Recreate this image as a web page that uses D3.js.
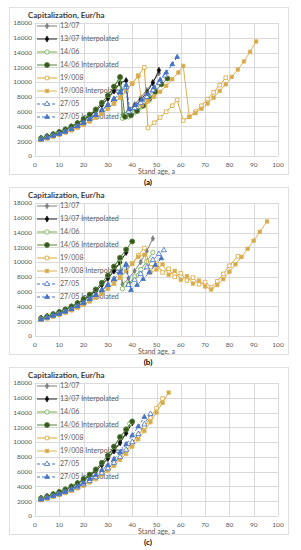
<!DOCTYPE html>
<html>
<head>
<meta charset="utf-8">
<script src="https://cdn.jsdelivr.net/npm/d3@7"></script>
<style>
  body { margin: 0; background: #fff; }
  text { font-family: Lato, "Liberation Sans", sans-serif; }
</style>
</head>
<body>
<div id="chart"></div>
<script>
// early growth parts shared by the runs [age, Eur/ha]
const grayEarly = [[2.5,2400],[5,2650],[7.5,2900],[10,3200],[12.5,3550],[15,3950],[17.5,4400],[20,4900],[22.5,5450],[25,6100],[27.5,6900],[30,7800],[32.5,8800]];
const greenEarly = [[2.5,2400],[5,2650],[7.5,2950],[10,3250],[12.5,3600],[15,4000],[17.5,4450],[20,5000],[22.5,5600],[25,6300],[27.5,7200],[30,8200],[32.5,9400]];
const blueEarly = [[2.5,2250],[5,2500],[7.5,2750],[10,3000],[12.5,3300],[15,3650],[17.5,4050],[20,4500],[22.5,5000],[25,5550],[27.5,6200],[30,6900],[32.5,7700],[35,8600]];
const orangeEarly = [[2.5,2200],[5,2400],[7.5,2650],[10,2900],[12.5,3200],[15,3500],[17.5,3850],[20,4250],[22.5,4700],[25,5200],[27.5,5750],[30,6400],[32.5,7100],[35,7900],[37.5,8800],[40,9800]];

// panel (a)
const a1307 = grayEarly.concat([[35,9800],[36,5600],[38.5,6200],[41,7000],[43.5,7900],[46,8900],[48.5,10000],[51,11200]]);
const a1307i = grayEarly.concat([[35,9900],[37.5,10200],[38.5,5900],[41,6700],[43.5,7600],[46,8600],[48.5,9900],[51,11600]]);
const a1406 = greenEarly.concat([[35,10500],[36,5100],[38.5,5300],[41,5900],[43.5,6600],[46,7400],[48.5,8300]]);
const a1406i = greenEarly.concat([[35,10700],[37,5300],[39.5,5500],[42,6100],[44.5,6800],[47,7700],[49.5,8700],[52,9700],[54.5,10500]]);
const a19008 = orangeEarly.concat([[42.5,10900],[45,12000],[46.5,3800],[49,4500],[51.5,5200],[54,6000],[56.5,6800],[58.5,7600],[61,4800],[63.5,5300],[66,6000],[68.5,6800],[71,7700],[73.5,8600],[76,9600],[78.5,10600]]);
const a19008i = orangeEarly.concat([[42.5,10800],[44,6900],[46.5,7400],[49,8000],[51.5,8700],[54,9500],[56.5,10400],[59,11300],[61,12200],[63.5,5300],[66,5800],[68.5,6400],[71,7100],[73.5,7900],[76,8800],[78.5,9700],[81,10700],[83.5,11700],[86,12800],[88.5,14100],[91,15500]]);
const a2705 = blueEarly.concat([[37.5,9300],[38.5,6000],[41,6500],[43.5,7200],[46,8000],[48.5,8900],[51,9900],[53.5,10900]]);
const a2705i = blueEarly.concat([[37.5,9600],[39,6300],[41.5,6900],[44,7600],[46.5,8400],[49,9300],[51.5,10300],[54,11300],[56.5,12400],[58.5,13400]]);

// panel (b)
const b1307 = grayEarly.concat([[35,9900],[36,7000],[38.5,7800],[41,8800],[43.5,10000],[46,11500],[48.5,13200]]);
const b1307i = grayEarly.concat([[35,10000],[37.5,11300]]);
const b1406 = greenEarly.concat([[35,10400],[36,6400],[38.5,7100],[41,8000],[43.5,9000],[46,10100],[48.5,11300]]);
const b1406i = greenEarly.concat([[35,10600],[37.5,11700],[40,12800]]);
const b19008 = orangeEarly.concat([[42.5,10900],[45,11900],[47.5,9300],[50,9800],[52.5,8600],[55,9100],[57.5,8000],[60,8500],[62.5,7500],[65,7900],[67.5,7000],[70,7300],[72.5,6600],[75,7400],[77.5,8400],[80,9500],[83.5,10800]]);
const b19008i = orangeEarly.concat([[42.5,10700],[45,11000],[47.5,8600],[50,9000],[52.5,9700],[55,8300],[57.5,8800],[60,7600],[62.5,8100],[65,7100],[67.5,7500],[70,6700],[72.5,6300],[75,6900],[77.5,7700],[80,8700],[82.5,9700],[85,10700],[87.5,11800],[90,12900],[92.5,14100],[95.5,15500]]);
const b2705 = blueEarly.concat([[37.5,9600],[38.5,6900],[41,7600],[43.5,8400],[46,9300],[48.5,10300],[51,11100],[53,11600]]);
const b2705i = blueEarly.concat([[37.5,9700],[39.5,6200],[42,6900],[44.5,7700],[47,8600],[49.5,9600],[52,10500]]);

// panel (c)
const c1307 = grayEarly.concat([[35,10000],[37.5,11300],[40,12700]]);
const c1307i = grayEarly.concat([[35,9900],[37.5,11200],[40,12600]]);
const c1406 = greenEarly.concat([[35,10600],[37.5,11800],[39,12500]]);
const c1406i = greenEarly.concat([[35,10700],[37.5,11700],[40,12800]]);
const c19008 = orangeEarly.concat([[42.5,10900],[45,12100],[47.5,13300],[50,14600],[52.5,15900]]);
const c19008i = [[2.5,2150],[5,2350],[7.5,2600],[10,2850],[12.5,3100],[15,3400],[17.5,3750],[20,4100],[22.5,4550],[25,5000],[27.5,5550],[30,6150],[32.5,6800],[35,7600],[37.5,8400],[40,9400],[42.5,10400],[45,11500],[47.5,12700],[50,14000],[52.5,15300],[55,16700]];
const c2705 = [[2.5,2250],[5,2450],[7.5,2700],[10,2950],[12.5,3250],[15,3550],[17.5,3900],[20,4300],[22.5,4750],[25,5250],[27.5,5800],[30,6450],[32.5,7200],[35,8000],[37.5,8950],[40,10000],[42.5,11100],[45,12400],[47.5,13800]];
const c2705i = blueEarly.concat([[37.5,9700],[40,10900],[42.5,12100],[45,13400]]);

const seriesNames = ['13/07', '13/07 Interpolated', '14/06', '14/06 Interpolated', '19/008', '19/008 Interpolated', '27/05', '27/05 Interpolated'];
const panelLabels = ['(a)', '(b)', '(c)'];
const xTicks = [0, 10, 20, 30, 40, 50, 60, 70, 80, 90, 100];
const yTicks = [0, 2000, 4000, 6000, 8000, 10000, 12000, 14000, 16000, 18000];

(function () {
  let width = 301, height = 550;

  let svg = d3.select('#chart').append('svg')
    .attr('width', width)
    .attr('height', height);

  let styles = [
    { color: '#7f7f7f', dash: null, sym: d3.symbolDiamond, fill: '#7f7f7f', size: 9 },
    { color: '#262626', dash: null, sym: d3.symbolDiamond, fill: '#000000', size: 11 },
    { color: '#70ad47', dash: null, sym: d3.symbolCircle, fill: '#ffffff', size: 15 },
    { color: '#548235', dash: null, sym: d3.symbolCircle, fill: '#375623', size: 20 },
    { color: '#d8a437', dash: null, sym: d3.symbolSquare, fill: '#ffffff', size: 13 },
    { color: '#dfb255', dash: null, sym: d3.symbolSquare, fill: '#d2aa4c', size: 12 },
    { color: '#4472c4', dash: '3,2', sym: d3.symbolTriangle, fill: '#ffffff', size: 12 },
    { color: '#4472c4', dash: '3,2', sym: d3.symbolTriangle, fill: '#4472c4', size: 10 }
  ];

  let panels = [
    [a1307, a1307i, a1406, a1406i, a19008, a19008i, a2705, a2705i],
    [b1307, b1307i, b1406, b1406i, b19008, b19008i, b2705, b2705i],
    [c1307, c1307i, c1406, c1406i, c19008, c19008i, c2705, c2705i]
  ];

  let xScale = d3.scaleLinear().domain([0, 100]).range([35, 278]);
  let yScale = d3.scaleLinear().domain([0, 18000]).range([156, 23]);

  panels.forEach((series, p) => {
    let g = svg.append('g').attr('transform', 'translate(0,' + (p * 180) + ')');

    g.append('rect')
      .attr('x', 9.5).attr('y', 7.5)
      .attr('width', 279).attr('height', 167)
      .attr('fill', '#fff')
      .attr('stroke', '#d9d9d9')
      .attr('stroke-width', 0.8);

    // grid
    g.append('g').selectAll('line.h')
      .data(yTicks).enter()
      .append('line')
      .attr('x1', xScale(0)).attr('x2', xScale(100))
      .attr('y1', (d) => Math.round(yScale(d)) + 0.5)
      .attr('y2', (d) => Math.round(yScale(d)) + 0.5)
      .attr('stroke', '#d9d9d9');

    g.append('g').selectAll('line.v')
      .data(xTicks).enter()
      .append('line')
      .attr('y1', yScale(0)).attr('y2', yScale(18000))
      .attr('x1', (d) => Math.round(xScale(d)) + 0.5)
      .attr('x2', (d) => Math.round(xScale(d)) + 0.5)
      .attr('stroke', '#d9d9d9');

    // tick labels
    g.append('g').selectAll('text.yl')
      .data(yTicks).enter()
      .append('text')
      .attr('x', 32)
      .attr('y', (d) => yScale(d) + 2.3)
      .attr('text-anchor', 'end')
      .attr('fill', '#595959')
      .style('font-size', '6.5px')
      .text((d) => d);

    g.append('g').selectAll('text.xl')
      .data(xTicks).enter()
      .append('text')
      .attr('x', (d) => xScale(d))
      .attr('y', 167)
      .attr('text-anchor', 'middle')
      .attr('fill', '#595959')
      .style('font-size', '6.5px')
      .text((d) => d);

    g.append('text')
      .attr('x', 138).attr('y', 173.5)
      .attr('fill', '#595959')
      .style('font-size', '7px')
      .text('Stand age, a');

    g.append('text')
      .attr('x', 28).attr('y', 18)
      .attr('fill', '#404040')
      .style('font-size', '8px')
      .style('font-weight', 'bold')
      .text('Capitalization, Eur/ha');

    // legend
    let leg = g.append('g').selectAll('g.leg')
      .data(seriesNames).enter()
      .append('g')
      .attr('transform', (d, i) => 'translate(0,' + (26 + i * 13) + ')');

    leg.append('line')
      .attr('x1', 37).attr('x2', 57)
      .attr('stroke', (d, i) => styles[i].color)
      .attr('stroke-width', 1)
      .attr('stroke-dasharray', (d, i) => styles[i].dash);

    leg.append('path')
      .attr('transform', 'translate(47,0)')
      .attr('d', (d, i) => d3.symbol().type(styles[i].sym).size(styles[i].size)())
      .attr('fill', (d, i) => styles[i].fill)
      .attr('stroke', (d, i) => styles[i].color)
      .attr('stroke-width', 0.8);

    leg.append('text')
      .attr('x', 60).attr('y', 2.4)
      .attr('fill', '#595959')
      .style('font-size', '7px')
      .text((d) => d);

    // series
    let line = d3.line()
      .x((d) => xScale(d[0]))
      .y((d) => yScale(d[1]));

    series.forEach((data, i) => {
      let st = styles[i];
      g.append('path')
        .datum(data)
        .attr('d', line)
        .attr('fill', 'none')
        .attr('stroke', st.color)
        .attr('stroke-width', 1)
        .attr('stroke-dasharray', st.dash);

      g.append('g').selectAll('path.m')
        .data(data).enter()
        .append('path')
        .attr('transform', (d) => 'translate(' + xScale(d[0]) + ',' + yScale(d[1]) + ')')
        .attr('d', d3.symbol().type(st.sym).size(st.size)())
        .attr('fill', st.fill)
        .attr('stroke', st.color)
        .attr('stroke-width', 0.8);
    });

    g.append('text')
      .attr('x', 148).attr('y', 185)
      .attr('text-anchor', 'middle')
      .attr('fill', '#000')
      .style('font-size', '8px')
      .style('font-weight', 'bold')
      .text(panelLabels[p]);
  });
})();
</script>
</body>
</html>
